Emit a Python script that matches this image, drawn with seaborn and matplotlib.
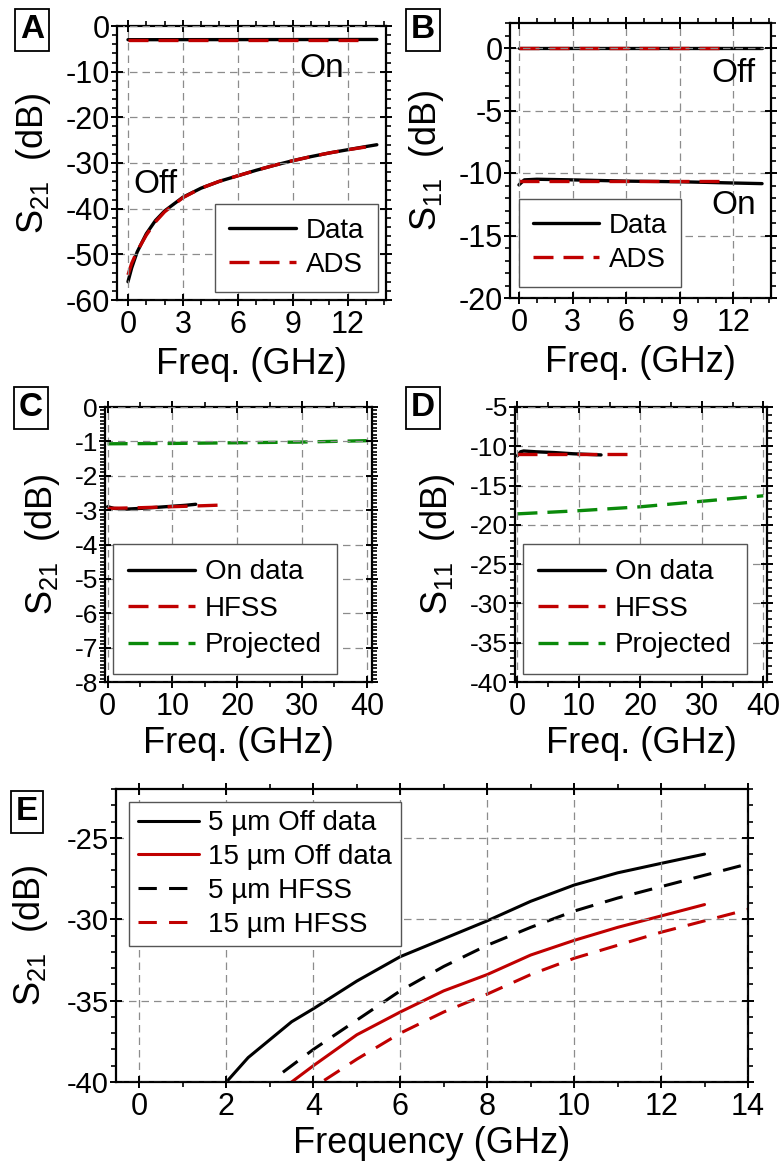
import numpy as np
import pandas as pd
import matplotlib
matplotlib.use("Agg")
import matplotlib.pyplot as plt
import seaborn as sns
from matplotlib.ticker import MultipleLocator, AutoMinorLocator

# ---- data ----
# A: S21 vs freq (GHz)
fa_on = [0, 13.6]
s21a_on = [-3.0, -2.95]
fa_on_ads = [0, 13.1]
s21a_on_ads = [-3.0, -3.0]
fa_off = [0, 0.2, 0.5, 1, 1.5, 2, 3, 4, 5, 6, 7, 8, 9, 10, 11, 12, 13, 13.6]
s21a_off = [-56, -53, -49.5, -45.5, -42.6, -40.5, -37.5, -35.5, -34.0, -32.8,
            -31.6, -30.5, -29.5, -28.6, -27.8, -27.1, -26.4, -26.0]
fa_off_ads = [0, 0.2, 0.5, 1, 1.5, 2, 3, 4, 5, 6, 7, 8, 9, 10, 11, 12, 13]
s21a_off_ads = [-54.5, -52, -49.3, -45.8, -42.9, -40.7, -37.6, -35.5, -34.0, -32.8,
                -31.6, -30.5, -29.5, -28.6, -27.8, -27.1, -26.5]

# B: S11 vs freq
fb_off = [0, 13.6]
s11b_off = [0.0, 0.0]
fb_off_ads = [0, 11.5]
s11b_off_ads = [0.0, 0.0]
fb_on = [0, 0.3, 1, 3, 6, 9, 12, 13.6]
s11b_on = [-10.95, -10.55, -10.5, -10.55, -10.65, -10.7, -10.8, -10.85]
fb_on_ads = [0, 11.5]
s11b_on_ads = [-10.65, -10.65]

# C: S21, on state to 40 GHz
fc_data = [0, 1, 3, 6, 9, 12, 13.6]
s21c_data = [-2.9, -2.95, -2.97, -2.94, -2.9, -2.86, -2.83]
fc_hfss = [0, 5, 10, 15, 18]
s21c_hfss = [-2.95, -2.93, -2.9, -2.87, -2.85]
fc_proj = [0, 10, 20, 30, 40]
s21c_proj = [-1.07, -1.06, -1.04, -1.02, -0.98]

# D: S11, on state to 40 GHz
fd_data = [0, 0.5, 1, 3, 6, 9, 12, 13.6]
s11d_data = [-11.2, -10.7, -10.6, -10.7, -10.8, -10.95, -11.05, -11.1]
fd_hfss = [0, 5, 10, 15, 19]
s11d_hfss = [-10.95, -10.95, -10.95, -10.95, -10.95]
fd_proj = [0, 10, 20, 30, 40]
s11d_proj = [-18.6, -18.2, -17.7, -17.0, -16.3]

# E: off-state S21, 5 um vs 15 um
fe_5_data = [2, 2.5, 3, 3.5, 4, 5, 6, 7, 8, 9, 10, 11, 12, 13]
s21e_5_data = [-40, -38.5, -37.4, -36.3, -35.5, -33.8, -32.3, -31.2, -30.1, -28.9,
               -27.9, -27.15, -26.57, -26.0]
fe_15_data = [3.5, 4, 5, 6, 7, 8, 9, 10, 11, 12, 13]
s21e_15_data = [-40, -39.0, -37.1, -35.7, -34.4, -33.4, -32.2, -31.3, -30.5, -29.8, -29.1]
fe_5_hfss = [3.3, 4, 5, 6, 7, 8, 9, 10, 11, 12, 13, 14]
s21e_5_hfss = [-39.4, -38.0, -36.2, -34.4, -32.9, -31.6, -30.5, -29.5, -28.7, -28.0, -27.3, -26.6]
fe_15_hfss = [4.25, 5, 6, 7, 8, 9, 10, 11, 12, 13, 14]
s21e_15_hfss = [-39.9, -38.6, -37.0, -35.7, -34.6, -33.4, -32.4, -31.6, -30.8, -30.1, -29.4]

BLACK = "#000000"
RED = "#c00000"
GREEN = "#0a8a0a"

sns.set_style("ticks")
plt.rcParams["font.family"] = ["Liberation Sans", "DejaVu Sans"]
plt.rcParams["mathtext.default"] = "regular"
plt.rcParams["axes.unicode_minus"] = False
for k in ["text.color", "axes.labelcolor", "xtick.color", "ytick.color", "axes.edgecolor"]:
    plt.rcParams[k] = "black"

W, H = 783, 1164
fig = plt.figure(figsize=(W / 100, H / 100), dpi=100)
fig.patch.set_facecolor("white")


def add_ax(l, r, t, b):
    return fig.add_axes([l / W, 1 - b / H, (r - l) / W, (b - t) / H])


def style(ax, xlim, ylim, xmaj, ymaj, xmin_n, ymin_n, xfs, yfs):
    ax.set_xlim(*xlim)
    ax.set_ylim(*ylim)
    ax.xaxis.set_major_locator(MultipleLocator(xmaj))
    ax.yaxis.set_major_locator(MultipleLocator(ymaj))
    ax.xaxis.set_minor_locator(AutoMinorLocator(xmin_n))
    ax.yaxis.set_minor_locator(AutoMinorLocator(ymin_n))
    for s in ax.spines.values():
        s.set_visible(True)
        s.set_linewidth(1.6)
        s.set_color("black")
    ax.tick_params(which="major", direction="inout", length=8, width=1.4,
                   top=True, right=True, colors="black")
    ax.tick_params(which="minor", direction="out", length=3.5, width=1.2,
                   top=True, right=True)
    ax.tick_params(axis="x", which="major", labelsize=xfs, pad=3)
    ax.tick_params(axis="y", which="major", labelsize=yfs, pad=1)
    ax.grid(True, which="major", color="#8c8c8c", linestyle=(0, (6, 4)), linewidth=0.9)
    ax.set_axisbelow(False)
    ax.set_facecolor("white")


def line(ax, x, y, color, lw=2.4, ls="-", label=None):
    sns.lineplot(x=x, y=y, ax=ax, color=color, linewidth=lw, linestyle=ls,
                 label=label, estimator=None, sort=False, legend=False)


def leg(ax, loc, anchor, fs, hl=2.4, ls=0.3, bp=0.5):
    lg = ax.legend(loc=loc, bbox_to_anchor=anchor, fontsize=fs, frameon=True,
                   fancybox=False, framealpha=1, edgecolor="#555555",
                   handlelength=hl, borderaxespad=0, borderpad=bp,
                   labelspacing=ls, handletextpad=0.35)
    lg.get_frame().set_linewidth(1.0)


def panel_label(x, y, s):
    fig.text(x / W, 1 - y / H, s, fontsize=24, fontweight="bold", ha="center", va="center",
             bbox=dict(boxstyle="square,pad=0.16", fc="white", ec="black", lw=1.3))


DASH = (0, (6, 3))

# ---- A ----
axA = add_ax(117, 386, 26, 300)
style(axA, (-0.6, 14.1), (-60, 0), 3, 10, 3, 5, 22, 22)
line(axA, fa_on, s21a_on, BLACK, label="Data")
line(axA, fa_on_ads, s21a_on_ads, RED, ls=DASH, label="ADS")
line(axA, fa_off, s21a_off, BLACK)
line(axA, fa_off_ads, s21a_off_ads, RED, ls=DASH)
axA.text(10.6, -9.2, "On", fontsize=24, ha="center", va="center")
axA.text(1.5, -34.6, "Off", fontsize=24, ha="center", va="center")
axA.set_xlabel("Freq. (GHz)", fontsize=26, labelpad=5)
axA.set_ylabel("S$_{21}$  (dB)", fontsize=26, labelpad=9)
leg(axA, "lower right", (0.97, 0.03), 20)

# ---- B ----
axB = add_ax(510, 771, 23, 298)
style(axB, (-0.5, 14.1), (-20, 2), 3, 5, 3, 5, 22, 22)
line(axB, fb_off, s11b_off, BLACK, label="Data")
line(axB, fb_off_ads, s11b_off_ads, RED, ls=DASH, label="ADS")
line(axB, fb_on, s11b_on, BLACK)
line(axB, fb_on_ads, s11b_on_ads, RED, ls=DASH)
axB.text(12.0, -2.0, "Off", fontsize=24, ha="center", va="center")
axB.text(12.0, -12.6, "On", fontsize=24, ha="center", va="center")
axB.set_xlabel("Freq. (GHz)", fontsize=26, labelpad=5)
axB.set_ylabel("S$_{11}$  (dB)", fontsize=26, labelpad=9)
leg(axB, "lower left", (0.034, 0.04), 20)

# ---- C ----
axC = add_ax(105, 372, 407, 682)
style(axC, (-0.4, 40.8), (-8, 0), 10, 1, 2, 10, 22, 19)
line(axC, fc_data, s21c_data, BLACK, label="On data")
line(axC, fc_hfss, s21c_hfss, RED, ls=DASH, label="HFSS")
line(axC, fc_proj, s21c_proj, GREEN, ls=DASH, label="Projected")
axC.set_xlabel("Freq. (GHz)", fontsize=26, labelpad=3)
axC.set_ylabel("S$_{21}$  (dB)", fontsize=26, labelpad=9)
leg(axC, "lower left", (0.03, 0.03), 20, ls=0.38, bp=0.55)

# ---- D ----
axD = add_ax(515, 767, 407, 682)
style(axD, (-0.4, 40.6), (-40, -5), 10, 5, 2, 5, 22, 19)
line(axD, fd_data, s11d_data, BLACK, label="On data")
line(axD, fd_hfss, s11d_hfss, RED, ls=DASH, label="HFSS")
line(axD, fd_proj, s11d_proj, GREEN, ls=DASH, label="Projected")
axD.set_xlabel("Freq. (GHz)", fontsize=26, labelpad=3)
axD.set_ylabel("S$_{11}$  (dB)", fontsize=26, labelpad=9)
leg(axD, "lower left", (0.032, 0.03), 20, ls=0.38, bp=0.55)

# ---- E ----
axE = add_ax(116, 748, 789, 1082)
style(axE, (-0.54, 14.0), (-40, -22), 2, 5, 2, 5, 22, 21)
line(axE, fe_5_data, s21e_5_data, BLACK, lw=2.2, label="5 µm Off data")
line(axE, fe_15_data, s21e_15_data, RED, lw=2.2, label="15 µm Off data")
line(axE, fe_5_hfss, s21e_5_hfss, BLACK, lw=2.2, ls=(0, (6, 4)), label="5 µm HFSS")
line(axE, fe_15_hfss, s21e_15_hfss, RED, lw=2.2, ls=(0, (6, 4)), label="15 µm HFSS")
axE.set_xlabel("Frequency (GHz)", fontsize=26, labelpad=3)
axE.set_ylabel("S$_{21}$  (dB)", fontsize=26, labelpad=12)
leg(axE, "upper left", (0.021, 0.956), 20, hl=2.2, ls=0.28, bp=0.3)

panel_label(32, 30, "A")
panel_label(423, 30, "B")
panel_label(31, 408, "C")
panel_label(423, 408, "D")
panel_label(27, 812, "E")

fig.savefig("out.png", dpi=100)
